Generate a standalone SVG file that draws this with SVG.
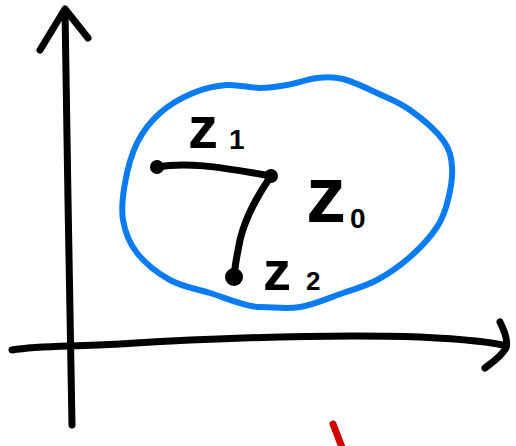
<svg xmlns="http://www.w3.org/2000/svg" width="516" height="446" viewBox="0 0 516 446">
<style>
.ink{fill:none;stroke:#000;stroke-width:7;stroke-linecap:round;stroke-linejoin:round}
.blue{fill:none;stroke:#0a7cf2;stroke-width:6;stroke-linecap:round;stroke-linejoin:round}
.red{fill:none;stroke:#d00000;stroke-width:7;stroke-linecap:round}
.lbl{font-family:"Liberation Sans",Arial,sans-serif;font-weight:bold;fill:#000}
.dot{fill:#000}
</style>
<rect width="516" height="446" fill="#fff"/>
<g id="axes">
<path class="ink" d="M72,425 C71,380 70,300 68,200 C67,120 66,60 65,10"/>
<path class="ink" d="M40,50 L65,9 L88,38"/>
<path class="ink" d="M12,350 C40,345 70,347 120,344 C220,338 330,334 420,337 C460,339 490,341 506,346"/>
<path class="ink" d="M500,322 C505,332 508,342 506,348 C500,358 490,364 485,368"/>
</g>
<g id="region">
<path class="blue" d="M193,93 C204.2,88.3 215.8,85.8 227,85 C238.2,84.2 250,88 260,88 C270,88 277.5,86.7 287,85 C296.5,83.3 307.7,79 317,78 C326.3,77 333,76.5 343,79 C353,81.5 365.8,87.8 377,93 C388.2,98.2 399,102.2 410,110 C421,117.8 436,130.5 443,140 C450,149.5 451.2,157 452,167 C452.8,177 450.5,190 448,200 C445.5,210 443.3,217.5 437,227 C430.7,236.5 420,248.2 410,257 C400,265.8 388.2,274 377,280 C365.8,286 355.8,288.5 343,293 C330.2,297.5 313.8,304.7 300,307 C286.2,309.3 275,307 260,307 C245,307 225,297.5 210,293 C195,288.5 182.2,286.7 170,280 C157.8,273.3 144.8,263 137,253 C129.2,243 125,231.7 123,220 C121,208.3 122.7,195.8 125,183 C127.3,170.2 131.2,154.7 137,143 C142.8,131.3 150.7,121.3 160,113 C169.3,104.7 181.8,97.7 193,93 Z"/>
</g>
<g id="connectors">
<path class="ink" d="M157,167 C185,162 215,166 271,176"/>
<path class="ink" d="M271,176 C258,195 246,215 240,240 C237,255 235,265 234,276"/>
</g>
<g id="z1">
<circle class="dot" cx="157" cy="167" r="7"/>
<text class="lbl" x="188" y="148" font-size="60">z</text>
<text class="lbl" x="229" y="149" font-size="28">1</text>
</g>
<g id="z_mid">
<circle class="dot" cx="271" cy="176" r="7"/>
</g>
<g id="z2">
<circle class="dot" cx="234" cy="277" r="9"/>
<text class="lbl" x="263" y="290" font-size="56">z</text>
<text class="lbl" x="306" y="290" font-size="26">2</text>
</g>
<g id="z0">
<text class="lbl" x="306" y="222" font-size="80">z</text>
<text class="lbl" x="350" y="228" font-size="28">0</text>
</g>
<g id="mark">
<path class="red" d="M333,424 L343,450"/>
</g>
</svg>
